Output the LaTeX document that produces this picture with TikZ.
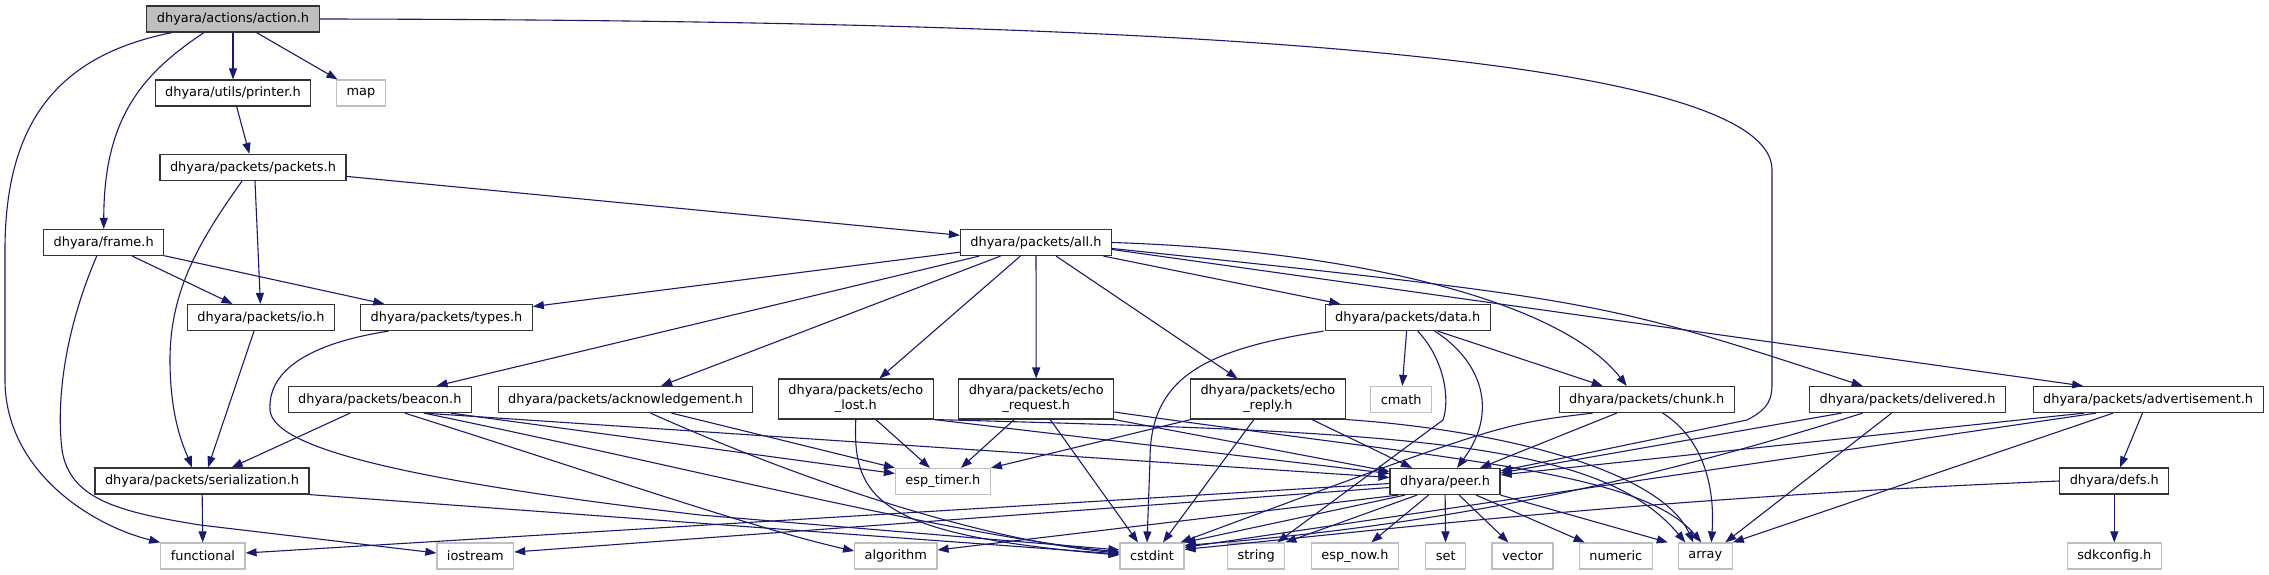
\documentclass[tikz,border=0pt]{standalone}
\usepackage{fontspec}
\setmainfont{DejaVu Sans}
\usepackage{tikz}
\usetikzlibrary{arrows.meta}
\definecolor{midnight}{RGB}{25,25,112}
\definecolor{grey75}{RGB}{191,191,191}

\begin{document}
\begin{tikzpicture}[
    x=1pt, y=-1pt,
    file/.style={draw=black!80, fill=white, rectangle, line width=1.2pt, inner xsep=10pt, inner ysep=6pt, minimum height=26pt, align=center, font=\fontsize{12.9}{15}\selectfont},
    root/.style={file, fill=grey75},
    sys/.style={file, draw=grey75},
    dep/.style={-{Triangle[length=11pt, width=8pt]}, draw=midnight, line width=1.1pt}
]
    \useasboundingbox (0,0) rectangle (2269,575);

    % root
    \node[root] (action) at (233,19) {dhyara/actions/action.h};

    % project headers
    \node[file] (printer) at (233,93) {dhyara/utils/printer.h};
    \node[file] (packets) at (253,167.5) {dhyara/packets/packets.h};
    \node[file] (frame) at (103.7,242.5) {dhyara/frame.h};
    \node[file] (all) at (1036,242.5) {dhyara/packets/all.h};
    \node[file] (io) at (261,317.5) {dhyara/packets/io.h};
    \node[file] (types) at (446.5,317.5) {dhyara/packets/types.h};
    \node[file] (data) at (1407.7,317.5) {dhyara/packets/data.h};
    \node[file] (beacon) at (379.8,399.5) {dhyara/packets/beacon.h};
    \node[file] (ack) at (625.5,399.5) {dhyara/packets/acknowledgement.h};
    \node[file] (echolost) at (855.8,399) {dhyara/packets/echo\\\_lost.h};
    \node[file] (echorequest) at (1036.2,399) {dhyara/packets/echo\\\_request.h};
    \node[file] (echoreply) at (1267.9,399) {dhyara/packets/echo\\\_reply.h};
    \node[file] (chunk) at (1646.7,399.5) {dhyara/packets/chunk.h};
    \node[file] (delivered) at (1907.6,399.5) {dhyara/packets/delivered.h};
    \node[file] (advert) at (2148.1,399.5) {dhyara/packets/advertisement.h};
    \node[file] (serial) at (202,481) {dhyara/packets/serialization.h};
    \node[file] (peer) at (1445,481.5) {dhyara/peer.h};
    \node[file] (defs) at (2114.3,481) {dhyara/defs.h};

    % system headers
    \node[sys] (map) at (361,93) {map};
    \node[sys] (cmath) at (1401.2,399.5) {cmath};
    \node[sys] (esptimer) at (942.9,481.5) {esp\_timer.h};
    \node[sys] (functional) at (202.9,556) {functional};
    \node[sys] (iostream) at (475.3,556) {iostream};
    \node[sys] (algorithm) at (895.8,556) {algorithm};
    \node[sys] (cstdint) at (1152,556) {cstdint};
    \node[sys] (string) at (1256.2,556) {string};
    \node[sys] (espnow) at (1354.9,556) {esp\_now.h};
    \node[sys] (set) at (1445.7,556) {set};
    \node[sys] (vector) at (1522.5,556) {vector};
    \node[sys] (numeric) at (1615.8,556) {numeric};
    \node[sys] (array) at (1705.3,556) {array};
    \node[sys] (sdkconfig) at (2114.3,556) {sdkconfig.h};

    % action.h
    \draw[dep] (action) -- (printer);
    \draw[dep] (action) -- (map);
    \draw[dep] ([xshift=-29pt]action.south) .. controls (140,75) and (104,120) .. (frame);
    \draw[dep] ([xshift=-61pt]action.south) .. controls (60,55) and (5,120) .. (5,250) -- (5,380) .. controls (5,470) and (90,525) .. (functional.north west);
    \draw[dep] (action.east) .. controls (1000,20) and (1772,40) .. (1772,170) -- (1772,385) .. controls (1772,405) and (1762,412) .. (1747,420) -- ([yshift=-3pt]peer.north east);

    % printer.h, packets.h
    \draw[dep] (printer) -- (packets);
    \draw[dep] (packets) -- (all);
    \draw[dep] ([xshift=2pt]packets.south) -- (io);
    \draw[dep] ([xshift=-11pt]packets.south) .. controls (200,240) and (170,290) .. (170,360) .. controls (170,420) and (185,450) .. ([xshift=-10pt]serial.north);

    % frame.h
    \draw[dep] (frame) -- (io);
    \draw[dep] (frame) -- (types);
    \draw[dep] ([xshift=-7pt]frame.south) .. controls (65,330) and (56,400) .. (62,450) .. controls (70,500) and (120,512) .. (200,525) -- ([yshift=3pt]iostream.west);

    % io.h, types.h, serialization.h
    \draw[dep] ([xshift=-7pt]io.south) -- ([xshift=6pt]serial.north);
    \draw[dep] ([xshift=-58pt]types.south) .. controls (300,345) and (268,375) .. (270,410) .. controls (273,450) and (420,482) .. (700,515) -- ([yshift=6pt]cstdint.west);
    \draw[dep] (serial) -- (functional);
    \draw[dep] (serial.south east) -- ([yshift=2pt]cstdint.west);

    % all.h
    \draw[dep] (all) -- (types);
    \draw[dep] (all) -- (beacon);
    \draw[dep] (all) -- (ack);
    \draw[dep] (all) -- (echolost);
    \draw[dep] (all) -- (echorequest);
    \draw[dep] (all) -- (echoreply);
    \draw[dep] (all) -- (data);
    \draw[dep] (all.east) .. controls (1350,250) and (1560,300) .. ([xshift=-20pt]chunk.north);
    \draw[dep] ([yshift=-6pt]all.east) .. controls (1600,300) .. ([xshift=-45pt]delivered.north);
    \draw[dep] ([yshift=-7pt]all.east) -- ([xshift=-65pt]advert.north);

    % beacon.h
    \draw[dep] (beacon) -- (serial);
    \draw[dep] ([xshift=71pt]beacon.south) -- ([yshift=8pt]esptimer.west);
    \draw[dep] ([xshift=25pt]beacon.south) .. controls (600,475) and (760,530) .. ([yshift=5pt]algorithm.west);
    \draw[dep] ([xshift=44pt]beacon.south) .. controls (700,470) and (950,535) .. ([yshift=4pt]cstdint.west);
    \draw[dep] ([xshift=44pt]beacon.south) -- ([yshift=4pt]peer.west);

    % acknowledgement.h
    \draw[dep] ([xshift=46pt]ack.south) -- (esptimer.north west);
    \draw[dep] ([xshift=25pt]ack.south) .. controls (800,480) and (980,540) .. ([yshift=3pt]cstdint.west);

    % echo packets
    \draw[dep] ([xshift=20pt]echolost.south) -- ([xshift=-13pt]esptimer.north);
    \draw[dep] (echolost.south) .. controls (852,500) and (880,535) .. ([yshift=1pt]cstdint.west);
    \draw[dep] (echolost.south east) -- ([yshift=8pt]peer.west);
    \draw[dep] (echolost.south east) .. controls (1400,432) and (1600,440) .. ([xshift=-20pt]array.north);
    \draw[dep] ([xshift=-22pt]echorequest.south) -- ([xshift=18pt]esptimer.north);
    \draw[dep] ([xshift=14pt]echorequest.south) -- ([xshift=-14pt]cstdint.north);
    \draw[dep] (echorequest.south east) -- ([yshift=10pt]peer.west);
    \draw[dep] ([yshift=-13pt]echorequest.east) .. controls (1450,460) and (1640,470) .. ([xshift=-4pt]array.north);
    \draw[dep] ([xshift=-77pt]echoreply.south) -- (esptimer.north east);
    \draw[dep] ([xshift=-14pt]echoreply.south) -- ([xshift=11pt]cstdint.north);
    \draw[dep] ([xshift=44pt]echoreply.south) -- ([xshift=-33pt]peer.north);
    \draw[dep] (echoreply.south east) .. controls (1500,430) and (1660,470) .. ([xshift=-12pt]array.north);

    % data.h
    \draw[dep] (data) -- (cmath);
    \draw[dep] ([xshift=-84pt]data.south) .. controls (1200,350) and (1150,380) .. (1150,460) -- ([xshift=-5pt]cstdint.north);
    \draw[dep] ([xshift=10pt]data.south) .. controls (1445,360) and (1450,400) .. (1443,420) -- ([xshift=21pt]string.north);
    \draw[dep] ([xshift=27pt]data.south) .. controls (1480,360) and (1500,410) .. ([xshift=12pt]peer.north);
    \draw[dep] ([xshift=30pt]data.south) -- ([xshift=-44pt]chunk.north);

    % chunk.h
    \draw[dep] ([xshift=-54pt]chunk.south) .. controls (1500,424) .. ([xshift=-4pt]cstdint.north east);
    \draw[dep] ([xshift=-30pt]chunk.south) -- ([xshift=35pt]peer.north);
    \draw[dep] ([xshift=16pt]chunk.south) .. controls (1705,440) and (1715,490) .. ([xshift=6pt]array.north);

    % delivered.h
    \draw[dep] ([xshift=-66pt]delivered.south) -- ([yshift=-5pt]peer.north east);
    \draw[dep] ([xshift=-45pt]delivered.south) .. controls (1650,480) and (1450,525) .. ([yshift=-3pt]cstdint.north east);
    \draw[dep] ([xshift=-16pt]delivered.south) -- ([xshift=20pt]array.north);

    % advertisement.h
    \draw[dep] ([xshift=-64pt]advert.south) -- ([yshift=-7pt]peer.north east);
    \draw[dep] ([xshift=-52pt]advert.south) -- ([yshift=-5pt]cstdint.north east);
    \draw[dep] ([xshift=-35pt]advert.south) -- (array.north east);
    \draw[dep] (advert) -- (defs);

    % defs.h
    \draw[dep] (defs) -- (sdkconfig);
    \draw[dep] (defs.west) .. controls (1650,498) and (1400,528) .. ([yshift=-7pt]cstdint.north east);

    % peer.h
    \draw[dep] ([yshift=-2pt]peer.west) -- ([yshift=3pt]functional.east);
    \draw[dep] ([yshift=-6pt]peer.west) -- ([yshift=4pt]iostream.east);
    \draw[dep] ([xshift=-47pt]peer.south) -- ([yshift=6pt]algorithm.east);
    \draw[dep] ([xshift=-40pt]peer.south) -- (cstdint.north east);
    \draw[dep] ([xshift=-28pt]peer.south) -- (string.north east);
    \draw[dep] (peer) -- (espnow);
    \draw[dep] (peer) -- (set);
    \draw[dep] (peer) -- (vector);
    \draw[dep] (peer) -- (numeric);
    \draw[dep] (peer.south east) -- ([xshift=-10pt]array.north west);

\end{tikzpicture}
\end{document}
